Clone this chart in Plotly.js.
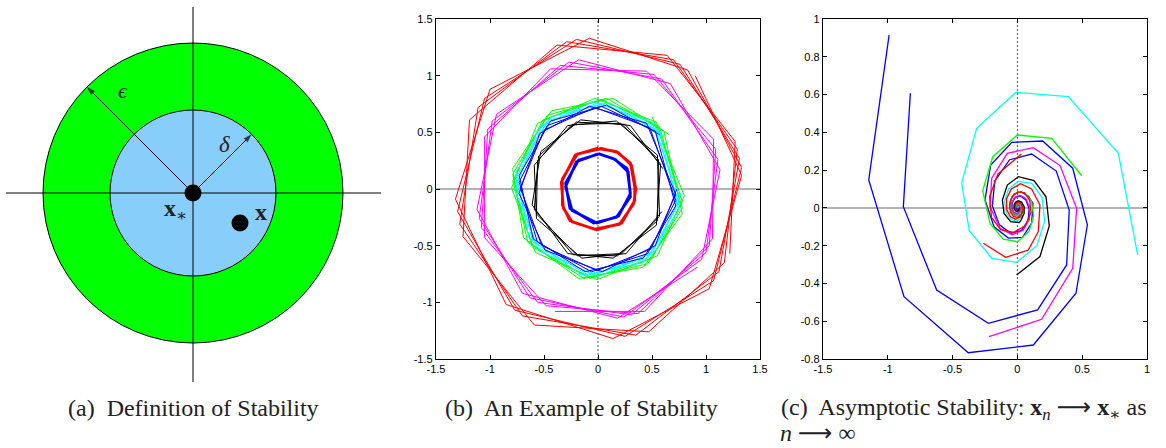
<!DOCTYPE html>
<html>
<head>
<meta charset="utf-8">
<script src="https://cdn.plot.ly/plotly-3.0.1.min.js"></script>
<style>
html,body{margin:0;padding:0;background:#fff;}
#chart{width:1166px;height:448px;}
</style>
</head>
<body>
<div id="chart"></div>
<script>
// ---------- Panel (a): definition of stability (diagram units) ----------
const epsilonRadius = 150;
const deltaRadius = 83;
const equilibriumPoint = [0, 0];
const perturbedPoint = [47, -30];
const diagramAxisX = [-187, 188];
const diagramAxisY = [-189, 186];
const epsilonAngleDeg = 135;
const deltaAngleDeg = 45;

// ---------- Panel (b): an example of stability ----------
const ticksB = [-1.5, -1, -0.5, 0, 0.5, 1, 1.5];
const tickTextB = ['-1.5', '-1', '-0.5', '0', '0.5', '1', '1.5'];

const redOuterX = [0.90,1.33,1.03,0.14,-0.85,-1.32,-1.00,-0.08, 0.83,1.33,1.07,0.25,-0.77,-1.30,-1.05,-0.20,
                   0.76,1.31,1.12,0.35,-0.70,-1.28,-1.11,-0.29, 0.70,1.29,1.17,0.47,-0.59,-1.25,-1.19,-0.38, 0.64,1.27,1.22];
const redOuterY = [1.00,0.12,-0.88,-1.32,-1.02,-0.09,0.88,1.33, 1.05,0.19,-0.81,-1.30,-1.07,-0.20,0.80,1.32,
                   1.10,0.27,-0.73,-1.29,-1.12,-0.31,0.72,1.30, 1.14,0.35,-0.65,-1.26,-1.20,-0.42,0.61,1.27, 1.18,0.42,-0.57];

const magentaX = [0.92,0.18,-0.70,-1.12,-0.94,-0.18,0.67,1.13, 0.96,0.24,-0.63,-1.10,-0.98,-0.27,0.59,1.11,
                  1.00,0.31,-0.56,-1.08,-1.02,-0.35,0.52,1.09, 1.03,0.37,-0.48,-1.05,-1.05,-0.44,0.45,1.07, 1.06,0.43,-0.40];
const magentaY = [-0.69,-1.14,-0.92,-0.18,0.66,1.14,0.93,0.17, -0.62,-1.13,-0.96,-0.26,0.60,1.12,0.97,0.26,
                  -0.56,-1.11,-1.00,-0.34,0.53,1.09,1.01,0.35, -0.50,-1.10,-1.03,-0.43,0.46,1.06,1.04,0.44, -0.44,-1.08,-1.08];

const greenX = [0.66,0.14,-0.43,-0.79,-0.69,-0.18,0.42,0.78, 0.61,0.08,-0.47,-0.79,-0.65,-0.13,0.46,0.78,
                0.57,0.03,-0.51,-0.79,-0.61,-0.07,0.50,0.78, 0.54,-0.03,-0.56,-0.80,-0.58,-0.01,0.55,0.80, 0.50];
const greenY = [0.48,0.80,0.69,0.18,-0.43,-0.79,-0.69,-0.22, 0.51,0.80,0.65,0.13,-0.47,-0.79,-0.66,-0.17,
                0.55,0.79,0.61,0.07,-0.51,-0.79,-0.61,-0.11, 0.59,0.80,0.58,0.01,-0.56,-0.80,-0.59,-0.06, 0.64];

const cyanX = [0.61,0.11,-0.43,-0.76,-0.64,-0.15,0.42,0.75, 0.57,0.05,-0.47,-0.76,-0.60,-0.09,0.46,0.75,
               0.53,0.00,-0.51,-0.76,-0.57,-0.04,0.50,0.76, 0.50,-0.05,-0.55,-0.77,-0.54,0.01,0.54,0.77];
const cyanY = [0.47,0.76,0.64,0.15,-0.43,-0.76,-0.65,-0.19, 0.51,0.76,0.60,0.09,-0.47,-0.76,-0.61,-0.13,
               0.55,0.76,0.57,0.04,-0.51,-0.76,-0.57,-0.08, 0.59,0.77,0.54,-0.01,-0.55,-0.77,-0.54,-0.03];

const blueX = [0.57,0.08,-0.44,-0.73,-0.60,-0.12,0.42,0.72, 0.53,0.03,-0.47,-0.73,-0.56,-0.06,0.46,0.72,
               0.48,-0.03,-0.50,-0.72,-0.52,-0.01,0.49,0.72, 0.45,-0.08,-0.54,-0.73,-0.49,0.04,0.53,0.73];
const blueY = [0.48,0.74,0.60,0.12,-0.44,-0.73,-0.61,-0.15, 0.51,0.73,0.56,0.06,-0.47,-0.73,-0.57,-0.10,
               0.54,0.72,0.52,0.01,-0.50,-0.72,-0.53,-0.05, 0.58,0.73,0.49,-0.04,-0.54,-0.73,-0.50,0.00];

const blackX = [0.60,0.30,-0.16,-0.53,-0.61,-0.28,0.14,0.54, 0.58,0.25,-0.20,-0.55,-0.59,-0.23,0.18,0.55,
                0.56,0.21,-0.24,-0.56,-0.57,-0.19,0.22,0.57, 0.55,0.17,-0.28,-0.59,-0.57,-0.15,0.26,0.59];
const blackY = [0.18,0.56,0.61,0.33,-0.14,-0.57,-0.61,-0.32, 0.22,0.57,0.59,0.29,-0.18,-0.58,-0.59,-0.28,
                0.26,0.58,0.57,0.25,-0.22,-0.59,-0.57,-0.24, 0.30,0.60,0.56,0.21,-0.26,-0.61,-0.57,-0.20];

const redInnerX = [0.00,-0.21,-0.34,-0.32,-0.24,-0.01,0.22,0.34,0.34,0.30,0.17,
                   0.02,-0.19,-0.33,-0.33,-0.26,-0.03,0.20,0.33,0.35,0.31,0.19,0.02];
const redInnerY = [0.36,0.30,0.06,-0.17,-0.29,-0.36,-0.30,-0.10,0.02,0.23,0.33,
                   0.355,0.31,0.09,-0.14,-0.28,-0.355,-0.31,-0.13,0.00,0.21,0.32,0.36];
const blueInnerX = [0.00,-0.20,-0.30,-0.24,-0.01,0.19,0.30,0.27,0.14,
                    0.01,-0.18,-0.30,-0.26,-0.04,0.17,0.30,0.28,0.16,0.01];
const blueInnerY = [0.31,0.24,0.02,-0.19,-0.30,-0.24,-0.04,0.18,0.27,
                    0.31,0.255,0.05,-0.17,-0.30,-0.25,-0.07,0.15,0.26,0.31];

// ---------- Panel (c): asymptotic stability ----------
const ticksCx = [-1.5, -1, -0.5, 0, 0.5, 1];
const tickTextCx = ['-1.5', '-1', '-0.5', '0', '0.5', '1'];
const ticksCy = [-0.8, -0.6, -0.4, -0.2, 0, 0.2, 0.4, 0.6, 0.8, 1];
const tickTextCy = ['-0.8', '-0.6', '-0.4', '-0.2', '0', '0.2', '0.4', '0.6', '0.8', '1'];

const spiralBlueAX = [-0.99,-1.147,-0.875,-0.379,0.123,0.452,0.54,0.427,0.195,-0.043,-0.206,-0.25,-0.18,-0.07,0.04,0.11,0.12,
                      0.085,0.028,-0.024,-0.054,-0.058,-0.04,-0.013,0.011,0.026,0.027,0.019,0.006,-0.005,-0.012,-0.013,-0.008,0,0.006,0.007];
const spiralBlueAY = [0.915,0.148,-0.47,-0.767,-0.726,-0.452,-0.09,0.21,0.354,0.347,0.227,0.042,-0.1,-0.16,-0.156,-0.08,0.024,
                      0.062,0.086,0.074,0.039,0,-0.029,-0.041,-0.035,-0.019,0,0.014,0.019,0.016,0.008,-0.001,-0.008,-0.01,-0.006,0];
const spiralBlueBX = [-0.826,-0.88,-0.623,-0.224,0.156,0.38,0.4,0.3,0.11,-0.06,-0.175,-0.193,-0.139,-0.051,0.032,0.082,0.091,
                      0.065,0.024,-0.015,-0.039,-0.043,-0.031,-0.011,0.007,0.018,0.02,0.014,0.004,-0.004];
const spiralBlueBY = [0.607,0.006,-0.435,-0.611,-0.54,-0.302,-0.011,0.195,0.285,0.255,0.142,0.01,-0.09,-0.134,-0.119,-0.067,-0.005,
                      0.042,0.063,0.056,0.031,0.002,-0.02,-0.03,-0.026,-0.014,-0.001,0.01,0.014,0.012];
const spiralCyanX = [0.928,0.779,0.393,-0.011,-0.314,-0.43,-0.371,-0.198,-0.005,0.15,0.21,0.19,0.11,0.005,-0.069,-0.099,-0.086,
                     -0.047,0,0.033,0.047,0.042,0.023,0,-0.016,-0.023,-0.02,-0.011,0,0.009,0.012];
const spiralCyanY = [-0.249,0.289,0.589,0.612,0.421,0.133,-0.121,-0.267,-0.288,-0.2,-0.07,0.055,0.13,0.14,0.099,0.034,-0.026,
                     -0.062,-0.068,-0.048,-0.016,0.013,0.03,0.033,0.023,0.008,-0.006,-0.015,-0.016,-0.011,-0.003];
const spiralGreenX = [0.496,0.265,0,-0.19,-0.268,-0.211,-0.109,0,0.09,0.126,0.108,0.058,0,-0.043,-0.06,-0.051,-0.027,0,0.02,
                      0.028,0.024,0.013,0,-0.01,-0.013];
const spiralGreenY = [0.17,0.368,0.386,0.271,0.091,-0.082,-0.166,-0.179,-0.125,-0.041,0.035,0.079,0.085,0.059,0.019,-0.017,
                      -0.037,-0.04,-0.028,-0.009,0.008,0.018,0.019,0.013,0.004];
const spiralMagentaX = [-0.219,0.187,0.427,0.457,0.329,0.123,-0.078,-0.198,-0.211,-0.134,-0.041,0.043,0.091,0.094,0.064,0.019,
                        -0.021,-0.043,-0.045,-0.03,-0.009,0.01,0.02,0.021,0.015,0.005,-0.004];
const spiralMagentaY = [-0.682,-0.59,-0.32,-0.002,0.224,0.319,0.289,0.157,0.006,-0.108,-0.142,-0.119,-0.062,0.003,0.05,0.067,
                        0.056,0.029,-0.002,-0.023,-0.032,-0.026,-0.013,0.001,0.011,0.016,0.014];
const spiralRedAX = [-0.263,-0.09,0.084,0.161,0.174,0.11,0.025,-0.047,-0.084,-0.082,-0.052,-0.012,0.022,0.039,0.039,0.025,0.006,
                     -0.011,-0.018,-0.018,-0.012,-0.003];
const spiralRedAY = [-0.187,-0.262,-0.223,-0.126,0.015,0.1,0.128,0.1,0.047,-0.01,-0.048,-0.06,-0.048,-0.022,0.005,0.023,0.028,
                     0.023,0.01,-0.002,-0.011,-0.014];
const spiralRedBX = [0.03,-0.15,-0.215,-0.2,-0.13,-0.03,0.06,0.105,0.095,0.055,0.005,-0.04,-0.06,-0.055,-0.03,0,0.03,0.04,0.035,
                     0.015,0,-0.015,-0.02,-0.015,-0.005,0.005,0.01];
const spiralRedBY = [0.285,0.18,0.06,-0.05,-0.115,-0.13,-0.095,-0.025,0.04,0.08,0.085,0.06,0.02,-0.02,-0.045,-0.05,-0.035,-0.01,
                     0.015,0.03,0.03,0.02,0.005,-0.01,-0.015,-0.012,-0.005];
const spiralBlackX = [-0.006,0.174,0.246,0.221,0.128,0.007,-0.078,-0.116,-0.103,-0.052,0.015,0.03,0.052,0.052,0.033,0.007,-0.014,
                      -0.026,-0.026,-0.016,-0.004,0.007,0.013,0.013];
const spiralBlackY = [-0.355,-0.258,-0.096,0.059,0.144,0.165,0.121,0.042,-0.029,-0.073,-0.078,-0.063,-0.029,0.006,0.031,0.038,
                      0.031,0.015,-0.003,-0.015,-0.019,-0.015,-0.007,0.002];

// ---------- Captions ----------
const arrowGlyph = '<span style="font-family:DejaVu Sans">⟶</span>';
const captionA = '(a)  Definition of Stability';
const captionB = '(b)  An Example of Stability';
const captionC1 = '(c)  Asymptotic Stability: <b>x</b><sub><i>n</i></sub> ' + arrowGlyph + ' <b>x</b><sub>∗</sub> as';
const captionC2 = '<i>n</i> ' + arrowGlyph + ' ∞';

// ---------- Build figure ----------
const W = 1166, H = 448;
const px = v => v / W;
const py = v => 1 - v / H;

function line(x, y, color, xa, ya, width) {
  return {x: x, y: y, type: 'scatter', mode: 'lines', xaxis: xa, yaxis: ya,
          line: {color: color, width: width}, hoverinfo: 'skip'};
}
const rad = d => d * Math.PI / 180;

const traces = [];
// panel a
traces.push(line(diagramAxisX, [0, 0], '#000', 'x', 'y', 1));
traces.push(line([0, 0], diagramAxisY, '#000', 'x', 'y', 1));
[[epsilonRadius, epsilonAngleDeg], [deltaRadius, deltaAngleDeg]].forEach(function (rv) {
  traces.push({x: [equilibriumPoint[0], rv[0] * Math.cos(rad(rv[1]))],
               y: [equilibriumPoint[1], rv[0] * Math.sin(rad(rv[1]))],
               type: 'scatter', mode: 'lines+markers', xaxis: 'x', yaxis: 'y',
               line: {color: '#000', width: 1},
               marker: {symbol: ['circle', 'arrow'], size: [0, 9], angleref: 'previous', color: '#000',
                        line: {width: 0}},
               hoverinfo: 'skip'});
});
traces.push({x: [equilibriumPoint[0], perturbedPoint[0]], y: [equilibriumPoint[1], perturbedPoint[1]],
             type: 'scatter', mode: 'markers', xaxis: 'x', yaxis: 'y',
             marker: {color: '#000', size: 17}, hoverinfo: 'skip'});
// panel b
const wB = 1;
traces.push(line(redOuterX, redOuterY, '#ff0000', 'x2', 'y2', wB));
traces.push(line(magentaX, magentaY, '#ff00ff', 'x2', 'y2', wB));
traces.push(line(greenX, greenY, '#00ff00', 'x2', 'y2', wB));
traces.push(line(cyanX, cyanY, '#00ffff', 'x2', 'y2', wB));
traces.push(line(blueX, blueY, '#0000ff', 'x2', 'y2', wB));
traces.push(line(blackX, blackY, '#000000', 'x2', 'y2', wB));
traces.push(line(redInnerX, redInnerY, '#ff0000', 'x2', 'y2', 2.8));
traces.push(line(blueInnerX, blueInnerY, '#0000ff', 'x2', 'y2', 2.8));
// panel c
const wC = 1.3;
traces.push(line(spiralBlueAX, spiralBlueAY, '#0000ff', 'x3', 'y3', wC));
traces.push(line(spiralBlueBX, spiralBlueBY, '#0000ff', 'x3', 'y3', wC));
traces.push(line(spiralCyanX, spiralCyanY, '#00ffff', 'x3', 'y3', wC));
traces.push(line(spiralGreenX, spiralGreenY, '#00ff00', 'x3', 'y3', wC));
traces.push(line(spiralMagentaX, spiralMagentaY, '#ff00ff', 'x3', 'y3', wC));
traces.push(line(spiralRedAX, spiralRedAY, '#ff0000', 'x3', 'y3', wC));
traces.push(line(spiralRedBX, spiralRedBY, '#ff0000', 'x3', 'y3', wC));
traces.push(line(spiralBlackX, spiralBlackY, '#000000', 'x3', 'y3', wC));

const tickFont = {family: 'Liberation Sans Narrow, Liberation Sans, Arial, sans-serif', size: 11, color: '#000'};
const frame = {showline: true, linecolor: '#000', linewidth: 1.2, mirror: 'allticks', ticks: 'inside',
               ticklen: 4, tickwidth: 1, tickcolor: '#000', showgrid: false, zeroline: false,
               tickfont: tickFont, fixedrange: true, tickmode: 'array'};

const yDom = [py(359), py(19)];
const layout = {
  width: W, height: H,
  margin: {l: 0, r: 0, t: 0, b: 0},
  paper_bgcolor: '#ffffff', plot_bgcolor: '#ffffff',
  showlegend: false,
  xaxis: {domain: [0, px(386)], range: [-193, 193], visible: false, fixedrange: true},
  yaxis: {domain: [py(386), 1], range: [-193, 193], visible: false, fixedrange: true},
  xaxis2: Object.assign({}, frame, {domain: [px(436), px(760)], range: [-1.5, 1.5], anchor: 'y2',
                                    tickvals: ticksB, ticktext: tickTextB}),
  yaxis2: Object.assign({}, frame, {domain: yDom, range: [-1.5, 1.5], anchor: 'x2',
                                    tickvals: ticksB, ticktext: tickTextB}),
  xaxis3: Object.assign({}, frame, {domain: [px(823), px(1147)], range: [-1.5, 1], anchor: 'y3',
                                    tickvals: ticksCx, ticktext: tickTextCx}),
  yaxis3: Object.assign({}, frame, {domain: yDom, range: [-0.8, 1], anchor: 'x3',
                                    tickvals: ticksCy, ticktext: tickTextCy}),
  shapes: [
    {type: 'circle', xref: 'x', yref: 'y', x0: -epsilonRadius, x1: epsilonRadius, y0: -epsilonRadius, y1: epsilonRadius,
     fillcolor: '#00ff00', line: {color: '#000', width: 1}, layer: 'below'},
    {type: 'circle', xref: 'x', yref: 'y', x0: -deltaRadius, x1: deltaRadius, y0: -deltaRadius, y1: deltaRadius,
     fillcolor: '#87cefa', line: {color: '#000', width: 1}, layer: 'below'},
    {type: 'line', xref: 'x2 domain', yref: 'y2', x0: 0, x1: 1, y0: 0, y1: 0, line: {color: '#b4b4b4', width: 2}, layer: 'below'},
    {type: 'line', xref: 'x2', yref: 'y2 domain', x0: 0, x1: 0, y0: 0, y1: 1, line: {color: '#555', width: 1, dash: '2px,2px'}, layer: 'below'},
    {type: 'line', xref: 'x3 domain', yref: 'y3', x0: 0, x1: 1, y0: 0, y1: 0, line: {color: '#b4b4b4', width: 2}, layer: 'below'},
    {type: 'line', xref: 'x3', yref: 'y3 domain', x0: 0, x1: 0, y0: 0, y1: 1, line: {color: '#555', width: 1, dash: '2px,2px'}, layer: 'below'}
  ],
  annotations: []
};

const ann = layout.annotations;
const serif = 'Liberation Serif, DejaVu Serif, serif';
ann.push({xref: 'x', yref: 'y', x: -70, y: 103, text: '<i>ϵ</i>', showarrow: false,
          font: {family: serif, size: 22, color: '#222'}});
ann.push({xref: 'x', yref: 'y', x: 31, y: 49, text: '<i>δ</i>', showarrow: false,
          font: {family: serif, size: 23, color: '#222'}});
ann.push({xref: 'x', yref: 'y', x: -18, y: -17, text: '<b>x</b><sub>∗</sub>', showarrow: false,
          font: {family: serif, size: 24, color: '#222'}});
ann.push({xref: 'x', yref: 'y', x: 68, y: -19, text: '<b>x</b>', showarrow: false,
          font: {family: serif, size: 24, color: '#222'}});
const capFont = {family: serif, size: 24, color: '#222'};
ann.push({xref: 'paper', yref: 'paper', x: px(193), y: py(408), xanchor: 'center', yanchor: 'middle',
          text: captionA, showarrow: false, font: capFont});
ann.push({xref: 'paper', yref: 'paper', x: px(581), y: py(408), xanchor: 'center', yanchor: 'middle',
          text: captionB, showarrow: false, font: capFont});
ann.push({xref: 'paper', yref: 'paper', x: px(779), y: py(408), xanchor: 'left', yanchor: 'middle',
          text: captionC1, showarrow: false, font: capFont});
ann.push({xref: 'paper', yref: 'paper', x: px(779), y: 0, xanchor: 'left', yanchor: 'bottom', borderpad: 0,
          text: captionC2, showarrow: false, font: capFont});

Plotly.newPlot('chart', traces, layout, {staticPlot: true, displayModeBar: false}).then(function (gd) {
  gd.querySelectorAll('text').forEach(function (t) {
    if (!t.textContent || !t.textContent.trim()) t.parentNode.removeChild(t);
  });
});
</script>
</body>
</html>
